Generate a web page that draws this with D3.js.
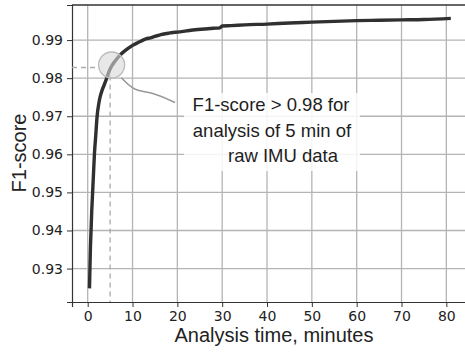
<!DOCTYPE html>
<meta charset="utf-8">
<script src="https://cdn.jsdelivr.net/npm/d3@7"></script>
<style>
  body { margin: 0; background: #fff; }
</style>
<div id="my_dataviz"></div>
<script>

// data
var minutes = [0.4, 0.5, 0.6, 0.75, 0.9, 1.1, 1.3, 1.5, 1.8, 2.1, 2.5, 2.8, 3.2, 3.6, 4.0, 4.6, 5.0, 5.5, 6.0,
  7, 8, 9, 10, 11, 12, 13, 14, 15, 16, 17, 18, 19, 20, 22, 24, 26, 28, 29.5, 30, 32, 35, 40, 45, 50, 55, 60, 65, 70, 75, 81];
var f1 = [0.9248, 0.930, 0.935, 0.940, 0.945, 0.950, 0.955, 0.960, 0.965, 0.970, 0.9735, 0.9752, 0.9768, 0.9780, 0.9792, 0.9812, 0.9824, 0.9835, 0.9843,
  0.9858, 0.9869, 0.9878, 0.9886, 0.9892, 0.9898, 0.9903, 0.9906, 0.9910, 0.9913, 0.9916, 0.9918, 0.9920, 0.9921, 0.9924, 0.9927, 0.9929, 0.9931, 0.9932, 0.9937, 0.9938, 0.9940, 0.9942, 0.9945, 0.9947, 0.9949, 0.9951, 0.9952, 0.9953, 0.9954, 0.9957];
var xTicks = [0, 10, 20, 30, 40, 50, 60, 70, 80];
var yTicks = [0.93, 0.94, 0.95, 0.96, 0.97, 0.98, 0.99];

// annotation
var markTime = 5, markScore = 0.9828;
var noteLines = ["F1-score > 0.98 for", "analysis of 5 min of", "raw IMU data"];

var margin = {top: 5, right: 0, bottom: 52, left: 72},
    width = 465 - margin.left - margin.right,
    height = 354 - margin.top - margin.bottom;

var svg = d3.select("#my_dataviz")
  .append("svg")
    .attr("width", 465)
    .attr("height", 354)
  .append("g")
    .attr("transform", "translate(" + margin.left + "," + margin.top + ")");

var x = d3.scaleLinear().domain([-3.5, 85.5]).range([0, 399]);
var y = d3.scaleLinear().domain([0.92122, 0.99921]).range([297, 0]);

// grid
svg.append("g").selectAll("line").data(xTicks).enter().append("line")
  .attr("x1", d => x(d)).attr("x2", d => x(d)).attr("y1", 0).attr("y2", 297)
  .attr("stroke", "#b4b4b4").attr("stroke-width", 1.3);
svg.append("g").selectAll("line").data(yTicks).enter().append("line")
  .attr("y1", d => y(d)).attr("y2", d => y(d)).attr("x1", 0).attr("x2", width)
  .attr("stroke", "#b4b4b4").attr("stroke-width", 1.3);

// axes
var xAxis = svg.append("g")
  .attr("transform", "translate(0,297)")
  .call(d3.axisBottom(x).tickValues(xTicks).tickSize(5).tickPadding(4).tickFormat(d3.format("d")));
var yAxis = svg.append("g")
  .call(d3.axisLeft(y).tickValues(yTicks).tickSize(5).tickPadding(4).tickFormat(d3.format(".2f")));
[xAxis, yAxis].forEach(function(a) {
  a.selectAll("text").style("font-family", "DejaVu Sans").style("font-size", "14px").attr("fill", "#222");
  a.selectAll("line").attr("stroke", "#333");
  a.select(".domain").attr("stroke", "#333").attr("stroke-width", 1.2);
});
svg.append("line").attr("x1", 0).attr("x2", width).attr("y1", 0).attr("y2", 0)
  .attr("stroke", "#333").attr("stroke-width", 1.5);

// dashed guides
svg.append("line")
  .attr("x1", 0).attr("x2", x(markTime) - 12)
  .attr("y1", y(markScore)).attr("y2", y(markScore))
  .attr("stroke", "#aaa").attr("stroke-width", 1.3).attr("stroke-dasharray", "5,4");
svg.append("line")
  .attr("x1", x(markTime)).attr("x2", x(markTime))
  .attr("y1", y(markScore) + 8).attr("y2", 297)
  .attr("stroke", "#aaa").attr("stroke-width", 1.3).attr("stroke-dasharray", "5,4");

// connector from circle to note
var conn = [[markTime + 2.5, markScore - 0.0027], [markTime + 5.5, markScore - 0.0063], [markTime + 9, markScore - 0.0063], [markTime + 14.5, markScore - 0.0092]];
svg.append("path")
  .attr("d", d3.line().x(d => x(d[0])).y(d => y(d[1])).curve(d3.curveBasis)(conn))
  .attr("fill", "none").attr("stroke", "#999").attr("stroke-width", 1.6);

// note box
svg.append("rect")
  .attr("x", 112).attr("y", 88).attr("width", 176).attr("height", 78)
  .attr("fill", "#fff").attr("opacity", 0.85);

// the curve
var pts = minutes.map((m, i) => [m, f1[i]]);
svg.append("path")
  .attr("d", d3.line().x(d => x(d[0])).y(d => y(d[1])).curve(d3.curveMonotoneX)(pts))
  .attr("fill", "none").attr("stroke", "#303030").attr("stroke-width", 3.4)
  .attr("stroke-linejoin", "round");

// highlight circle
svg.append("circle")
  .attr("cx", x(markTime) + 1.5).attr("cy", y(markScore) - 2.5).attr("r", 13)
  .attr("fill", "#d8d8d8").attr("fill-opacity", 0.6)
  .attr("stroke", "#bbb").attr("stroke-width", 1.3);

// note text
var noteX = [199, 200, 211];
svg.append("g").selectAll("text").data(noteLines).enter().append("text")
  .attr("x", (d, i) => noteX[i])
  .attr("y", (d, i) => 106 + i * 25.5)
  .attr("text-anchor", "middle")
  .style("font-family", "Liberation Sans, Arial, sans-serif")
  .style("font-size", "18.5px")
  .attr("fill", "#1e1e1e")
  .text(d => d);

// axis labels
svg.append("text")
  .attr("x", 202).attr("y", 337)
  .attr("text-anchor", "middle")
  .style("font-family", "Liberation Sans, Arial, sans-serif")
  .style("font-size", "20px").attr("fill", "#222")
  .text("Analysis time, minutes");
svg.append("text")
  .attr("transform", "translate(-46,148) rotate(-90)")
  .attr("text-anchor", "middle")
  .style("font-family", "Liberation Sans, Arial, sans-serif")
  .style("font-size", "20px").attr("fill", "#222")
  .text("F1-score");

</script>
